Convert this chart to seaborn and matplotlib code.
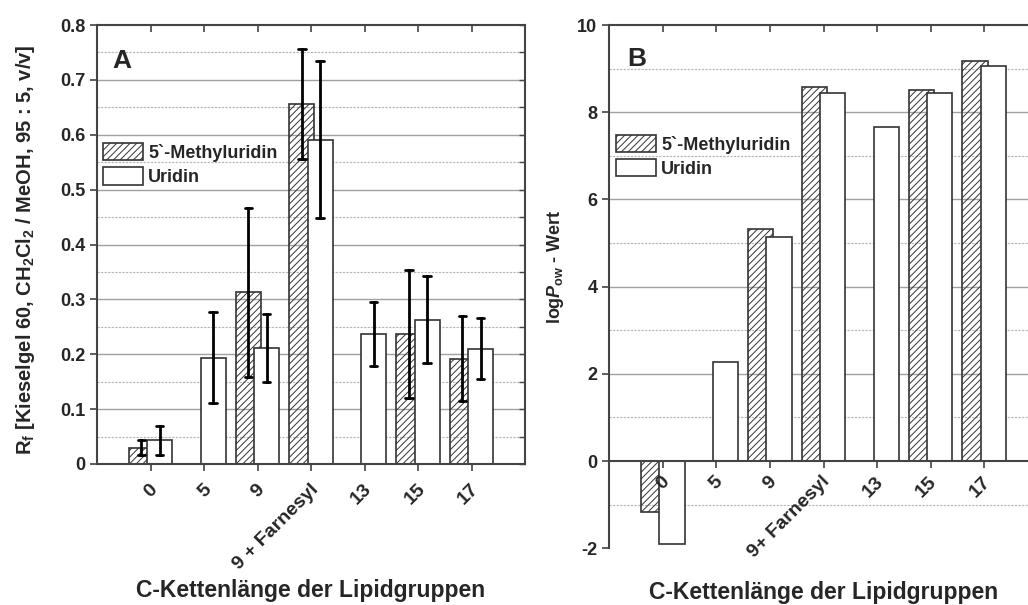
import numpy as np
import pandas as pd
import matplotlib
matplotlib.use("Agg")
import matplotlib.pyplot as plt
import seaborn as sns
from matplotlib.patches import Patch
from matplotlib.ticker import MultipleLocator, FuncFormatter, FixedLocator
from matplotlib.transforms import ScaledTranslation

# ---------------- data ----------------
categories = ["0", "5", "9", "9 + Farnesyl", "13", "15", "17"]
series = ["5`-Methyluridin", "Uridin"]
tick_labels_a = ["0", "5", "9", "9 + Farnesyl", "13", "15", "17"]
tick_labels_b = ["0", "5", "9", "9+ Farnesyl", "13", "15", "17"]

rf_methyl = [0.030, np.nan, 0.313, 0.656, np.nan, 0.237, 0.192]
rf_methyl_err = [0.014, np.nan, 0.154, 0.100, np.nan, 0.116, 0.078]
rf_uridin = [0.043, 0.194, 0.212, 0.591, 0.237, 0.263, 0.210]
rf_uridin_err = [0.026, 0.083, 0.062, 0.143, 0.058, 0.079, 0.056]

logp_methyl = [-1.16, np.nan, 5.33, 8.57, np.nan, 8.50, 9.18]
logp_uridin = [-1.90, 2.27, 5.14, 8.44, 7.65, 8.44, 9.05]

# long-form tables (two observations per bar = value -/+ error, mean = value)
rows_a = []
for s, vals, errs in [(series[0], rf_methyl, rf_methyl_err), (series[1], rf_uridin, rf_uridin_err)]:
    for c, v, e in zip(categories, vals, errs):
        if np.isnan(v):
            continue
        rows_a.append({"cat": c, "series": s, "val": v - e})
        rows_a.append({"cat": c, "series": s, "val": v + e})
df_a = pd.DataFrame(rows_a)

rows_b = []
for s, vals in [(series[0], logp_methyl), (series[1], logp_uridin)]:
    for c, v in zip(categories, vals):
        if np.isnan(v):
            continue
        rows_b.append({"cat": c, "series": s, "val": v})
df_b = pd.DataFrame(rows_b)

# ---------------- style ----------------
sns.set_style("white")
plt.rcParams["font.family"] = ["Liberation Sans", "DejaVu Sans"]
plt.rcParams["font.weight"] = "bold"
plt.rcParams["axes.labelweight"] = "bold"
plt.rcParams["axes.unicode_minus"] = False
plt.rcParams["mathtext.fontset"] = "custom"
plt.rcParams["mathtext.rm"] = "Liberation Sans:bold"
plt.rcParams["mathtext.it"] = "Liberation Sans:italic:bold"
plt.rcParams["mathtext.bf"] = "Liberation Sans:bold"
plt.rcParams["hatch.linewidth"] = 0.7

EDGE = "#333333"
SPINE = "#444444"
HATCH = "/////"
GRID_MAJ = dict(color="#a0a0a0", lw=1.0)
GRID_MIN = dict(color="#b4b4b4", lw=0.8, ls=(0, (2, 1.2)))

fig = plt.figure(figsize=(10.28, 6.05), dpi=100)
pos_a = [97 / 1028, 1 - 464 / 605, 428 / 1028, 439 / 605]
pos_b = [609.3 / 1028, 1 - 548.3 / 605, 428.4 / 1028, 523.3 / 605]
bg_a = fig.add_axes(pos_a, zorder=0)
bg_b = fig.add_axes(pos_b, zorder=0)
ax_a = fig.add_axes(pos_a, zorder=1)
ax_b = fig.add_axes(pos_b, zorder=1)

# background axes: only the horizontal grid, sitting behind the bars
for bg, lims, maj, mino in [
    (bg_a, (0, 0.8), FixedLocator(np.round(np.arange(0.1, 0.75, 0.1), 2)),
     FixedLocator(np.round(np.arange(0.05, 0.8, 0.1), 3))),
    (bg_b, (-2, 10), FixedLocator(np.arange(2, 9, 2)), FixedLocator(np.arange(-1, 10, 2))),
]:
    bg.set_ylim(*lims)
    bg.yaxis.set_major_locator(maj)
    bg.yaxis.set_minor_locator(mino)
    bg.yaxis.grid(True, which="major", **GRID_MAJ)
    bg.yaxis.grid(True, which="minor", **GRID_MIN)
    bg.xaxis.grid(False)
    bg.set_xticks([])
    bg.tick_params(axis="y", which="both", length=0, labelleft=False)
    for sp in bg.spines.values():
        sp.set_visible(False)

bar_kw = dict(x="cat", y="val", hue="series", order=categories, hue_order=series,
              palette=["white", "white"], saturation=1, width=0.68, gap=-0.38,
              edgecolor=EDGE, linewidth=1.2, legend=False)

sns.barplot(data=df_a, ax=ax_a, estimator="mean",
            errorbar=lambda v: (v.min(), v.max()), capsize=0.28,
            err_kws={"color": "black", "linewidth": 2.0}, **bar_kw)
sns.barplot(data=df_b, ax=ax_b, errorbar=None, **bar_kw)

for ax in (ax_a, ax_b):
    ax.patch.set_visible(False)
    ax.set_axisbelow(False)
    for p in ax.containers[0].patches:
        p.set_facecolor((1, 1, 1, 0))
        p.set_hatch(HATCH)
        p.set_edgecolor(EDGE)
    ax.set_xlim(-1, 7)
    ax.grid(False)
    for sp in ax.spines.values():
        sp.set_visible(True)
        sp.set_color(SPINE)
        sp.set_linewidth(1.5)
    ax.set_xticks(range(len(categories)))
    ax.tick_params(axis="both", which="major", direction="out", length=5, width=1.2,
                   color=SPINE, labelsize=13, left=True, bottom=True)
    ax.set_xlabel("C-Kettenlänge der Lipidgruppen", fontsize=16.5, fontweight="bold")
    sec = ax.secondary_xaxis("top")
    sec.set_xticks(range(len(categories)))
    sec.tick_params(direction="in", length=5, width=1.2, color=SPINE, labeltop=False)
    sec.spines["top"].set_visible(False)

# ---- panel A ----
ax_a.set_ylim(0, 0.8)
ax_a.yaxis.set_major_locator(MultipleLocator(0.1))
ax_a.yaxis.set_minor_locator(MultipleLocator(0.05))
ax_a.tick_params(axis="y", which="minor", length=0)
ax_a.yaxis.set_major_formatter(FuncFormatter(lambda v, p: "0" if abs(v) < 1e-9 else f"{v:.1f}"))
ax_a.set_xticklabels(tick_labels_a, rotation=45, ha="right", va="center",
                     rotation_mode="anchor", fontsize=14, fontweight="bold")
ax_a.tick_params(axis="x", pad=11.5)
ax_a.set_ylabel(r"R$_\mathrm{f}$ [Kieselgel $\mathit{60}$, CH$_\mathrm{2}$Cl$_\mathrm{2}$ / MeOH, 95 : 5, v/v]",
                fontsize=14.5, fontweight="bold")
ax_a.yaxis.set_label_coords(-0.14, 0.487)
ax_a.xaxis.set_label_coords(0.5, -0.262)
sec_r = ax_a.secondary_yaxis("right")
sec_r.yaxis.set_major_locator(MultipleLocator(0.1))
sec_r.yaxis.set_minor_locator(MultipleLocator(0.05))
sec_r.tick_params(which="both", direction="in", length=4, width=1.0, color=SPINE, labelright=False)
sec_r.spines["right"].set_visible(False)
ax_a.text(0.037, 0.945, "A", transform=ax_a.transAxes, fontsize=19, fontweight="bold",
          ha="left", va="top")

# ---- panel B ----
ax_b.set_ylim(-2, 10)
ax_b.yaxis.set_major_locator(MultipleLocator(2))
ax_b.yaxis.set_minor_locator(MultipleLocator(1))
ax_b.tick_params(axis="y", which="minor", direction="out", length=3, width=1.0, color=SPINE)
ax_b.spines["bottom"].set_position(("data", 0))
ax_b.set_xticklabels(tick_labels_b, rotation=45, ha="right", va="center",
                     rotation_mode="anchor", fontsize=14, fontweight="bold")
ax_b.tick_params(axis="x", pad=8)
ax_b.set_ylabel(r"log$\mathit{P}_\mathrm{ow}$ - Wert", fontsize=13, fontweight="bold")
ax_b.yaxis.set_label_coords(-0.1, 0.5375)
ax_b.xaxis.set_label_coords(0.5, -0.062)
ax_b.text(0.041, 0.9585, "B", transform=ax_b.transAxes, fontsize=19, fontweight="bold",
          ha="left", va="top")

# legends
handles = [Patch(facecolor=(1, 1, 1, 0), edgecolor=EDGE, hatch=HATCH, linewidth=1.2, label=series[0]),
           Patch(facecolor="white", edgecolor=EDGE, linewidth=1.2, label=series[1])]
leg_kw = dict(frameon=False, handlelength=2.2, handleheight=1.1, loc="upper left",
              borderaxespad=0, borderpad=0, labelspacing=0.3, handletextpad=0.3,
              prop={"size": 13, "weight": "bold"})
ax_a.legend(handles=handles, bbox_to_anchor=(0.014, 0.731), **leg_kw)
ax_b.legend(handles=handles, bbox_to_anchor=(0.0156, 0.79), **leg_kw)

# nudge rotated tick labels slightly to the right (as in the original)
fig.canvas.draw()
for ax, dx in [(ax_a, 4.5), (ax_b, 3.5)]:
    off = ScaledTranslation(dx / 100, 0, fig.dpi_scale_trans)
    for lab in ax.xaxis.get_ticklabels():
        lab.set_transform(lab.get_transform() + off)

fig.savefig("out.png", dpi=100)
